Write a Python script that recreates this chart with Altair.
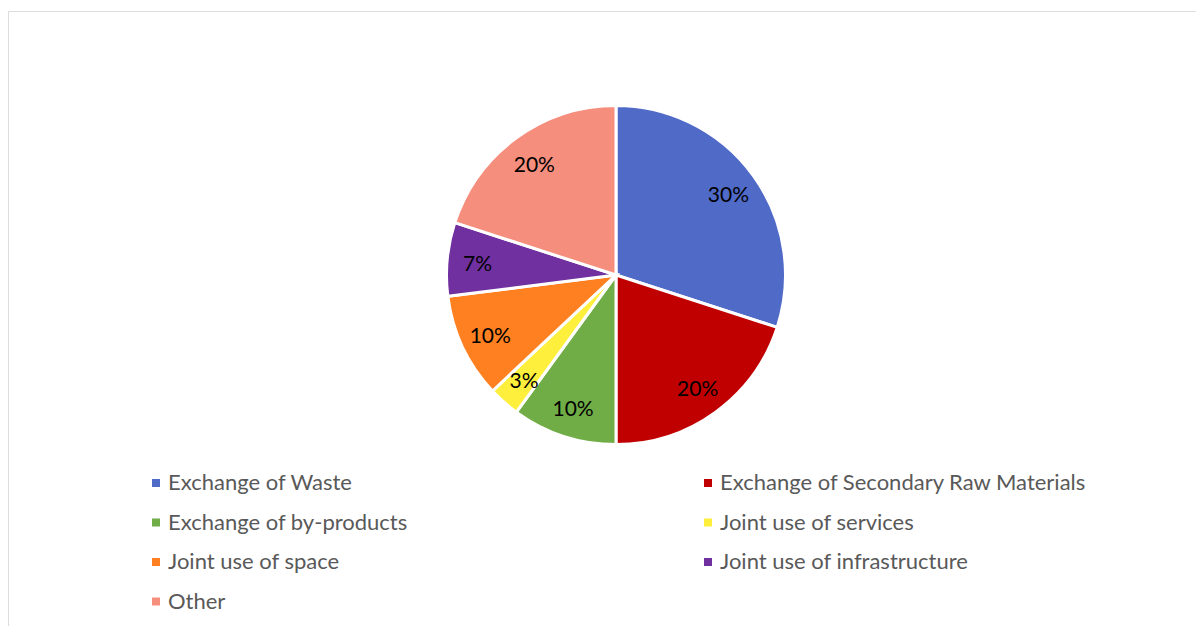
import altair as alt
import pandas as pd

categories = [
    "Exchange of Waste",
    "Exchange of Secondary Raw Materials",
    "Exchange of by-products",
    "Joint use of services",
    "Joint use of space",
    "Joint use of infrastructure",
    "Other",
]
shares = [30, 20, 10, 3, 10, 7, 20]
colors = ["#506AC8", "#C00000", "#70AD47", "#FDEF3C", "#FF8021", "#7030A0", "#F68E7E"]

df = pd.DataFrame({
    "category": categories,
    "share": shares,
    "order": list(range(len(categories))),
    "label": [f"{s}%" for s in shares],
})

# Legend fills column by column: reorder so rows read left-to-right like the original
legend_idx = [0, 2, 4, 6, 1, 3, 5]
legend_domain = [categories[i] for i in legend_idx]
legend_range = [colors[i] for i in legend_idx]

FONT = "Lato"

base = alt.Chart(df).encode(
    theta=alt.Theta("share:Q", stack=True),
    order=alt.Order("order:Q"),
    x=alt.value(608),
    y=alt.value(264),
)

arcs = base.mark_arc(outerRadius=169.5, stroke="white", strokeWidth=3).encode(
    color=alt.Color(
        "category:N",
        scale=alt.Scale(domain=legend_domain, range=legend_range),
        legend=alt.Legend(
            title=None,
            orient="none",
            legendX=137,
            legendY=461,
            columns=2,
            columnPadding=289,
            rowPadding=17.5,
            symbolType="square",
            symbolSize=64,
            symbolStrokeWidth=0,
            labelFont=FONT,
            labelFontSize=22,
            labelColor="#595959",
            labelOffset=1,
            labelLimit=600,
            padding=0,
        ),
    )
)

text = base.mark_text(radius=139, dy=3, fontSize=21, font=FONT, color="black").encode(
    text="label:N"
)

chart = (
    alt.layer(arcs, text)
    .properties(
        width=1188,
        height=615,
        autosize=alt.AutoSizeParams(type="none"),
        padding={"left": 8, "top": 11, "right": 0, "bottom": 0},
    )
    .configure_view(stroke="#D9D9D9", strokeWidth=1)
    .configure(background="white")
)

chart.save("out.html", embed_options={"renderer": "svg", "actions": False})
